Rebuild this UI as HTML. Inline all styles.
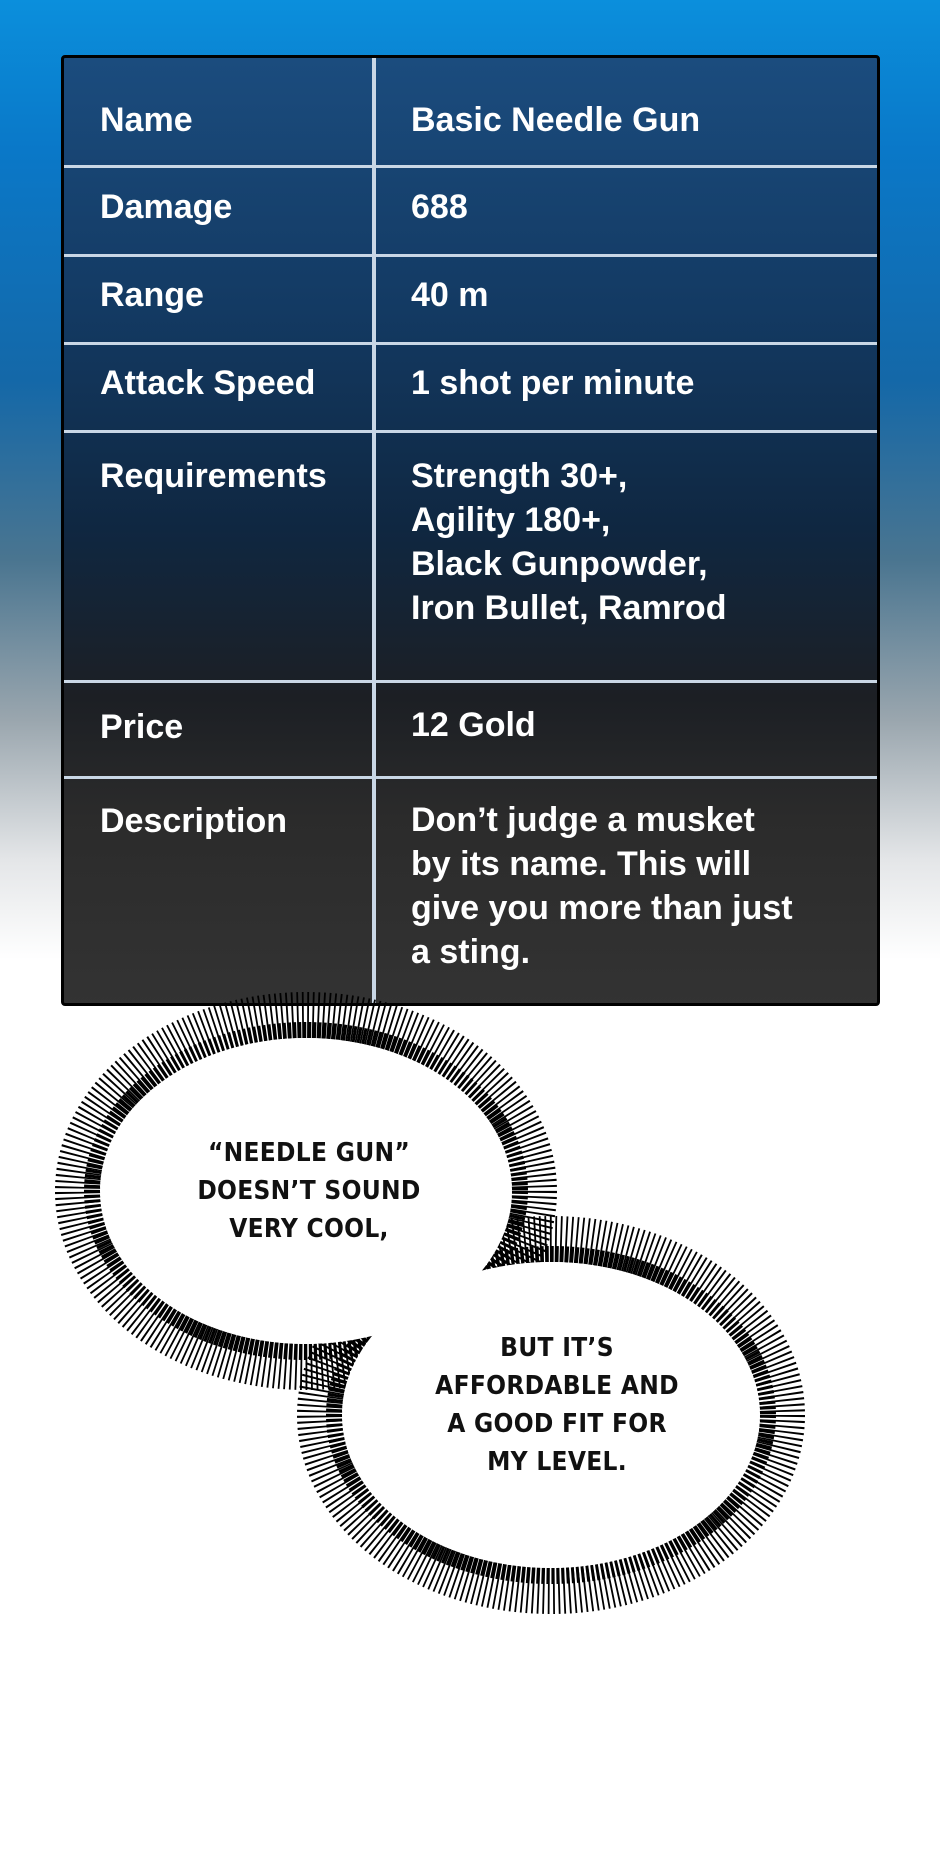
<!DOCTYPE html>
<html><head><meta charset="utf-8"><style>
html,body{margin:0;padding:0}
body{width:940px;height:1850px;position:relative;overflow:hidden;
background:linear-gradient(180deg,#0b8fdc 0px,#0a78c8 150px,#1468a8 380px,#4a7590 560px,#9aa6ae 720px,#e4e6e8 860px,#fff 960px,#fff 1850px);
font-family:"Liberation Sans",sans-serif}
.tbl{position:absolute;left:61px;top:55px;width:819px;height:951px;box-sizing:border-box;border:3px solid #000;border-radius:4px;
background:linear-gradient(180deg,#1b4c7e 0px,#133a63 250px,#0f2741 470px,#1c1f24 640px,#2b2b2b 760px,#333 951px);overflow:hidden}
.h{position:absolute;left:0;right:0;height:3px;background:#c9d7e6}
.v{position:absolute;top:0;bottom:0;left:308px;width:4px;background:#c9d7e6}
.t{position:absolute;color:#fff;font-weight:bold;font-size:34px;line-height:44px;letter-spacing:0px}
.b{position:absolute;font-family:"DejaVu Sans Condensed","Liberation Sans Narrow",sans-serif;font-weight:bold;font-size:26px;line-height:38px;text-align:center;color:#111;letter-spacing:0.3px}
</style></head><body>
<div class="tbl">
<div class="v"></div>
<div class="h" style="top:107px"></div>
<div class="h" style="top:196px"></div>
<div class="h" style="top:284px"></div>
<div class="h" style="top:372px"></div>
<div class="h" style="top:622px"></div>
<div class="h" style="top:718px"></div>
<div class="t" style="left:36px;top:40px">Name</div>
<div class="t" style="left:347px;top:40px">Basic Needle Gun</div>
<div class="t" style="left:36px;top:127px">Damage</div>
<div class="t" style="left:347px;top:127px">688</div>
<div class="t" style="left:36px;top:215px">Range</div>
<div class="t" style="left:347px;top:215px">40 m</div>
<div class="t" style="left:36px;top:303px">Attack Speed</div>
<div class="t" style="left:347px;top:303px">1 shot per minute</div>
<div class="t" style="left:36px;top:396px">Requirements</div>
<div class="t" style="left:347px;top:396px">Strength 30+,<br>Agility 180+,<br>Black Gunpowder,<br>Iron Bullet, Ramrod</div>
<div class="t" style="left:36px;top:647px">Price</div>
<div class="t" style="left:347px;top:645px">12 Gold</div>
<div class="t" style="left:36px;top:741px">Description</div>
<div class="t" style="left:347px;top:740px">Don’t judge a musket<br>by its name. This will<br>give you more than just<br>a sting.</div>
</div>
<svg style="position:absolute;left:0;top:0" width="940" height="1850">
<g fill="none" stroke="#000">
<ellipse cx="306" cy="1191" rx="228" ry="176" stroke-width="46" stroke-dasharray="1.8 3.4"/>
<ellipse cx="306" cy="1191" rx="214" ry="161" stroke-width="16" stroke-dasharray="3 2"/>
<ellipse cx="551" cy="1415" rx="231" ry="176" stroke-width="46" stroke-dasharray="1.8 3.4"/>
<ellipse cx="551" cy="1415" rx="217" ry="161" stroke-width="16" stroke-dasharray="3 2"/>
</g>
<ellipse cx="306" cy="1191" rx="206" ry="153" fill="#fff"/>
<ellipse cx="551" cy="1415" rx="209" ry="153" fill="#fff"/>
</svg>
<div class="b" style="left:159px;width:300px;top:1134px">“NEEDLE GUN”<br>DOESN’T SOUND<br>VERY COOL,</div>
<div class="b" style="left:407px;width:300px;top:1329px">BUT IT’S<br>AFFORDABLE AND<br>A GOOD FIT FOR<br>MY LEVEL.</div>
</body></html>
